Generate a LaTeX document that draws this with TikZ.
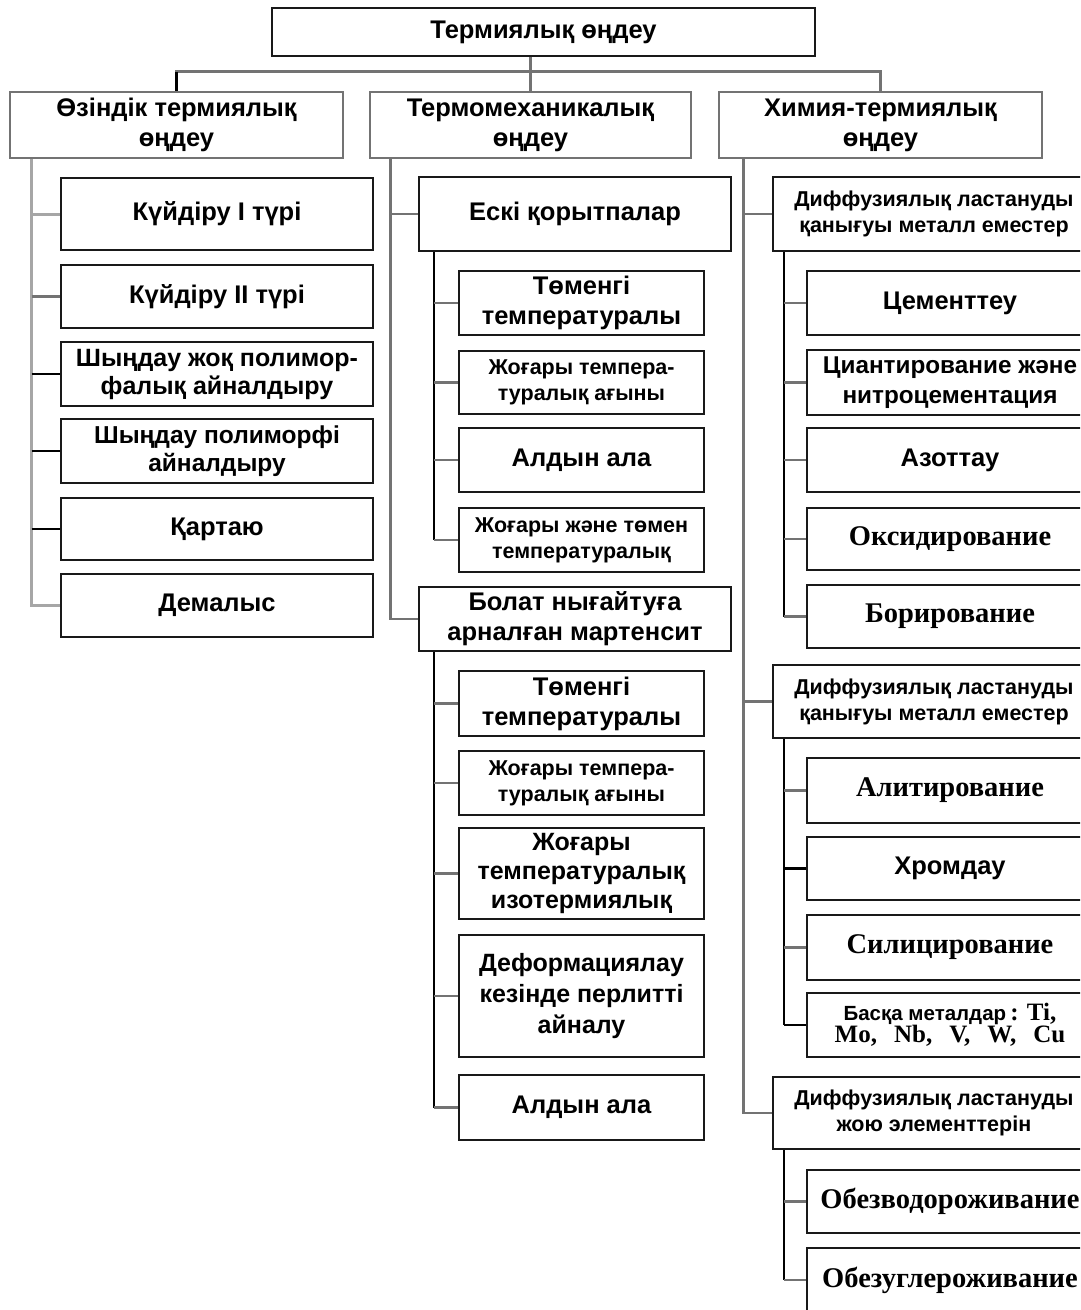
\documentclass[tikz,border=0pt]{standalone}
\usepackage{fontspec}
\setmainfont{Liberation Sans}
\newfontfamily\srf{Liberation Serif}
\newcommand\fz[2]{\fontsize{#1}{#2}\selectfont}
\begin{document}
\begin{tikzpicture}[x=1pt,y=-1pt,
  bx/.style={draw=black!90, line width=2.2pt, align=center, inner sep=0pt, font=\bfseries, fill=white},
  bxg/.style={bx, draw=black!55, line width=2.6pt},
  gl/.style={draw=black!35, line width=3pt},
  dl/.style={draw=black!55, line width=2.6pt},
  kl/.style={draw=black, line width=2.2pt},
  sans/.style={font=\bfseries\fz{25.5}{30}},
  small/.style={font=\bfseries\fz{21.5}{26}},
  ser/.style={font=\srf\bfseries\fz{28.5}{32}}]
\useasboundingbox (0,0) rectangle (1080,1310);
\clip (0,0) rectangle (1080,1310);
\fill[white] (0,0) rectangle (1080,1310);

% top level
\node[bx, sans, minimum width=543pt, minimum height=48pt] (top) at (543.5,32) {Термиялық өңдеу};
\node[bxg, sans, minimum width=333pt, minimum height=66pt] (A) at (176.5,125) {Өзіндік термиялық\\өңдеу};
\node[bxg, sans, minimum width=321pt, minimum height=66pt] (B) at (530.5,125) {Термомеханикалық\\өңдеу};
\node[bxg, sans, minimum width=323pt, minimum height=66pt] (C) at (880.5,125) {Химия-термиялық\\өңдеу};

% column A
\node[bx, sans, minimum width=312pt, minimum height=72pt] (k1) at (217,214) {Күйдіру I түрі};
\node[bx, sans, minimum width=312pt, minimum height=63pt] (k2) at (217,296.5) {Күйдіру II түрі};
\node[bx, sans, font=\bfseries\fz{25}{28}, minimum width=312pt, minimum height=64pt] (k3) at (217,374) {Шыңдау жоқ полимор-\\фалық айналдыру};
\node[bx, sans, font=\bfseries\fz{24.5}{28}, minimum width=312pt, minimum height=64pt] (k4) at (217,451) {Шыңдау полиморфі\\айналдыру};
\node[bx, sans, minimum width=312pt, minimum height=62pt] (k5) at (217,529) {Қартаю};
\node[bx, sans, minimum width=312pt, minimum height=63pt] (k6) at (217,605.5) {Демалыс};

% column B
\node[bx, sans, minimum width=312pt, minimum height=74pt] (eski) at (575,214) {Ескі қорытпалар};
\node[bx, sans, minimum width=245pt, minimum height=64pt] (s1) at (581.5,303) {Төменгі\\температуралы};
\node[bx, small, minimum width=245pt, minimum height=63pt] (s2) at (581.5,382.5) {Жоғары темпера-\\туралық ағыны};
\node[bx, sans, minimum width=245pt, minimum height=64pt] (s3) at (581.5,460) {Алдын ала};
\node[bx, small, minimum width=245pt, minimum height=64pt] (s4) at (581.5,540) {Жоғары және төмен\\температуралық};
\node[bx, sans, minimum width=312pt, minimum height=64pt] (bolat) at (575,619) {Болат нығайтуға\\арналған мартенсит};
\node[bx, sans, minimum width=245pt, minimum height=65pt] (t1) at (581.5,703.5) {Төменгі\\температуралы};
\node[bx, small, minimum width=245pt, minimum height=64pt] (t2) at (581.5,783) {Жоғары темпера-\\туралық ағыны};
\node[bx, sans, font=\bfseries\fz{25}{29}, minimum width=245pt, minimum height=91pt] (t3) at (581.5,873.5) {Жоғары\\температуралық\\изотермиялық};
\node[bx, sans, font=\bfseries\fz{25}{31}, minimum width=245pt, minimum height=122pt] (t4) at (581.5,996) {Деформациялау\\кезінде перлитті\\айналу};
\node[bx, sans, minimum width=245pt, minimum height=65pt] (t5) at (581.5,1107.5) {Алдын ала};

% column C
\node[bx, small, minimum width=322pt, minimum height=74pt] (D1) at (934,214) {Диффузиялық ластануды\\қанығуы металл еместер};
\node[bx, sans, minimum width=286pt, minimum height=64pt] (c1) at (950,303) {Цементтеу};
\node[bx, sans, font=\bfseries\fz{24.3}{30}, minimum width=286pt, minimum height=65pt] (c2) at (950,382.5) {Циантирование және\\нитроцементация};
\node[bx, sans, minimum width=286pt, minimum height=64pt] (c3) at (950,460) {Азоттау};
\node[bx, ser, minimum width=286pt, minimum height=62pt] (c4) at (950,539) {Оксидирование};
\node[bx, ser, minimum width=286pt, minimum height=63pt] (c5) at (950,616.5) {Борирование};
\node[bx, small, minimum width=322pt, minimum height=73pt] (D2) at (934,701.5) {Диффузиялық ластануды\\қанығуы металл еместер};
\node[bx, ser, minimum width=286pt, minimum height=65pt] (e1) at (950,790.5) {Алитирование};
\node[bx, sans, minimum width=286pt, minimum height=63pt] (e2) at (950,868.5) {Хромдау};
\node[bx, ser, minimum width=286pt, minimum height=65pt] (e3) at (950,947.5) {Силицирование};
\node[bx, ser, font=\srf\bfseries\fz{25}{22}, minimum width=286pt, minimum height=64pt] (e4) at (950,1025) {{\rmfamily\fz{20.5}{22}Басқа металдар}\,: Ti,\\Mo,\hspace{17pt}Nb,\hspace{17pt}V,\hspace{17pt}W,\hspace{17pt}Cu};
\node[bx, small, minimum width=322pt, minimum height=72pt] (D3) at (934,1113) {Диффузиялық ластануды\\жою элементтерін};
\node[bx, ser, minimum width=286pt, minimum height=63pt] (f1) at (950,1201.5) {Обезводороживание};
\node[bx, ser, minimum width=286pt, minimum height=64pt] (f2) at (950,1280) {Обезуглероживание};

% top connectors
\draw[dl] (top.south -| B.north) -- (B.north);
\draw[dl] (A.north) -- ++(0,-19) -| (C.north);
\draw[kl] (A.north) -- ++(0,-19);

% column A connectors
\coordinate (Ax) at ([xshift=23pt]A.south west);
\draw[gl] (Ax) |- (k6.west);
\draw[gl] (Ax |- k1.west) -- (k1.west);
\draw[dl] (Ax |- k2.west) -- (k2.west);
\draw[kl] (Ax |- k3.west) -- (k3.west);
\draw[kl] (Ax |- k4.west) -- (k4.west);
\draw[kl] (Ax |- k5.west) -- (k5.west);

% column B connectors
\coordinate (Bx) at ([xshift=22pt]B.south west);
\draw[dl] (Bx) |- (bolat.west);
\draw[dl] (Bx |- eski.west) -- (eski.west);
\coordinate (Ex) at ([xshift=16pt]eski.south west);
\draw[kl] (Ex) -- (Ex |- s4.west);
\foreach \n in {s1,s2,s3,s4} \draw[dl] (Ex |- \n.west) -- (\n.west);
\coordinate (Px) at ([xshift=16pt]bolat.south west);
\draw[kl] (Px) -- (Px |- t5.west);
\foreach \n in {t1,t2,t3,t4,t5} \draw[dl] (Px |- \n.west) -- (\n.west);

% column C connectors
\coordinate (Cx) at ([xshift=26pt]C.south west);
\draw[dl] (Cx) |- (D3.west);
\draw[dl] (Cx |- D1.west) -- (D1.west);
\draw[dl] (Cx |- D2.west) -- (D2.west);
\coordinate (Dx) at ([xshift=12pt]D1.south west);
\draw[kl] (Dx) -- (Dx |- c5.west);
\foreach \n in {c1,c2,c3,c4,c5} \draw[dl] (Dx |- \n.west) -- (\n.west);
\coordinate (Fx) at ([xshift=12pt]D2.south west);
\draw[kl] (Fx) -- (Fx |- e4.west);
\foreach \n in {e1,e3} \draw[dl] (Fx |- \n.west) -- (\n.west);
\foreach \n in {e2,e4} \draw[kl] (Fx |- \n.west) -- (\n.west);
\coordinate (Gx) at ([xshift=12pt]D3.south west);
\draw[kl] (Gx) -- (Gx |- f2.west);
\foreach \n in {f1,f2} \draw[dl] (Gx |- \n.west) -- (\n.west);
\end{tikzpicture}
\end{document}
